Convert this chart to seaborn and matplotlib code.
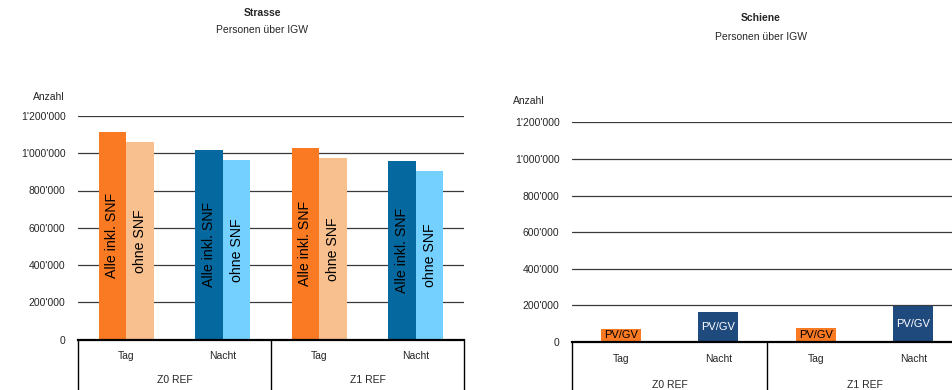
import matplotlib
matplotlib.use("Agg")
import matplotlib.pyplot as plt
from matplotlib.ticker import FuncFormatter, MultipleLocator
import pandas as pd
import seaborn as sns

sns.set_theme(style="white")
plt.rcParams["font.family"] = ["Liberation Sans", "DejaVu Sans"]

# --- data -------------------------------------------------------------
categories = ["Z0 Tag", "Z0 Nacht", "Z1 Tag", "Z1 Nacht"]
tick_labels = ["Tag", "Nacht", "Tag", "Nacht"]
scenarios = ["Z0 REF", "Z1 REF"]

strasse_series = ["Alle inkl. SNF", "ohne SNF"]
strasse_alle = [1115000, 1018000, 1029000, 959000]
strasse_ohne = [1061000, 964000, 975000, 905000]

schiene_label = "PV/GV"
schiene_values = [73000, 164000, 78000, 195000]

# colours per category (Tag = orange, Nacht = blue)
strasse_colors = {
    "Alle inkl. SNF": ["#FA7A24", "#05699F", "#FA7A24", "#05699F"],
    "ohne SNF": ["#F9C08F", "#73D0FF", "#F9C08F", "#73D0FF"],
}
schiene_colors = ["#FA7A24", "#1F4A7E", "#FA7A24", "#1F4A7E"]
schiene_text_colors = ["black", "white", "black", "white"]

# --- helpers ----------------------------------------------------------
fmt = FuncFormatter(lambda v, _: f"{v:,.0f}".replace(",", "'"))
FS = 7.5


def style_axis(ax, tag_y, group_y):
    ax.set_ylim(0, 1200000)
    ax.yaxis.set_major_locator(MultipleLocator(200000))
    ax.yaxis.set_major_formatter(fmt)
    ax.grid(axis="y", color="#3a3a3a", linewidth=0.9)
    ax.grid(axis="x", visible=False)
    ax.set_axisbelow(True)
    for s in ["top", "right", "left"]:
        ax.spines[s].set_visible(False)
    ax.spines["bottom"].set_color("black")
    ax.spines["bottom"].set_linewidth(1.6)
    ax.tick_params(axis="y", length=0, pad=9, labelsize=FS)
    ax.tick_params(axis="x", length=0, labelbottom=False)
    ax.set_xlabel("")
    ax.set_ylabel("")
    ax.set_xlim(-0.5, 3.5)
    trans = ax.get_xaxis_transform()
    for i, lab in enumerate(tick_labels):
        ax.text(i, tag_y, lab, transform=trans, ha="center", va="center", fontsize=FS)
    for j, sc in enumerate(scenarios):
        ax.text(0.5 + 2 * j, group_y, sc, transform=trans, ha="center", va="center", fontsize=FS)
    for xv in (-0.5, 1.5, 3.5):
        ax.plot([xv, xv], [0, -0.35], transform=trans, color="black",
                linewidth=1.0, clip_on=False)


fig = plt.figure(figsize=(9.52, 3.90), dpi=100)

# --- Strasse ----------------------------------------------------------
df_s = pd.DataFrame({
    "Kategorie": categories * 2,
    "Serie": [strasse_series[0]] * 4 + [strasse_series[1]] * 4,
    "Anzahl": strasse_alle + strasse_ohne,
})
ax1 = fig.add_axes([78 / 952, (390 - 339.5) / 390, 386 / 952, 223.5 / 390])
sns.barplot(data=df_s, x="Kategorie", y="Anzahl", hue="Serie", order=categories,
            hue_order=strasse_series, width=0.57, legend=False, ax=ax1,
            saturation=1, errorbar=None)
for cont, serie in zip(ax1.containers, strasse_series):
    for bar, col in zip(cont, strasse_colors[serie]):
        bar.set_facecolor(col)
        bar.set_edgecolor("none")
        ax1.text(bar.get_x() + bar.get_width() / 2, bar.get_height() / 2, serie,
                 rotation=90, ha="center", va="center", fontsize=10.2, color="black")
style_axis(ax1, -0.074, -0.181)

fig.text(262 / 952, 1 - 13 / 390, "Strasse", ha="center", va="center",
         fontsize=FS, fontweight="bold")
fig.text(262 / 952, 1 - 30 / 390, "Personen über IGW", ha="center", va="center",
         fontsize=FS)
fig.text(33 / 952, 1 - 97 / 390, "Anzahl", ha="left", va="center", fontsize=FS)

# --- Schiene ----------------------------------------------------------
df_r = pd.DataFrame({"Kategorie": categories, "Anzahl": schiene_values})
ax2 = fig.add_axes([572 / 952, (390 - 342) / 390, 390 / 952, 219.6 / 390])
sns.barplot(data=df_r, x="Kategorie", y="Anzahl", hue="Kategorie", order=categories,
            hue_order=categories, palette=schiene_colors, width=0.41, legend=False,
            ax=ax2, saturation=1, errorbar=None)
bars = [b for cont in ax2.containers for b in cont]
for bar, tc in zip(bars, schiene_text_colors):
    bar.set_edgecolor("none")
    ax2.text(bar.get_x() + bar.get_width() / 2, bar.get_height() / 2, schiene_label,
             ha="center", va="center", fontsize=8, color=tc)
style_axis(ax2, -0.077, -0.196)

fig.text(761 / 952, 1 - 18 / 390, "Schiene", ha="center", va="center",
         fontsize=FS, fontweight="bold")
fig.text(761 / 952, 1 - 37 / 390, "Personen über IGW", ha="center", va="center",
         fontsize=FS)
fig.text(513 / 952, 1 - 101 / 390, "Anzahl", ha="left", va="center", fontsize=FS)

fig.savefig("out.png", dpi=100)
